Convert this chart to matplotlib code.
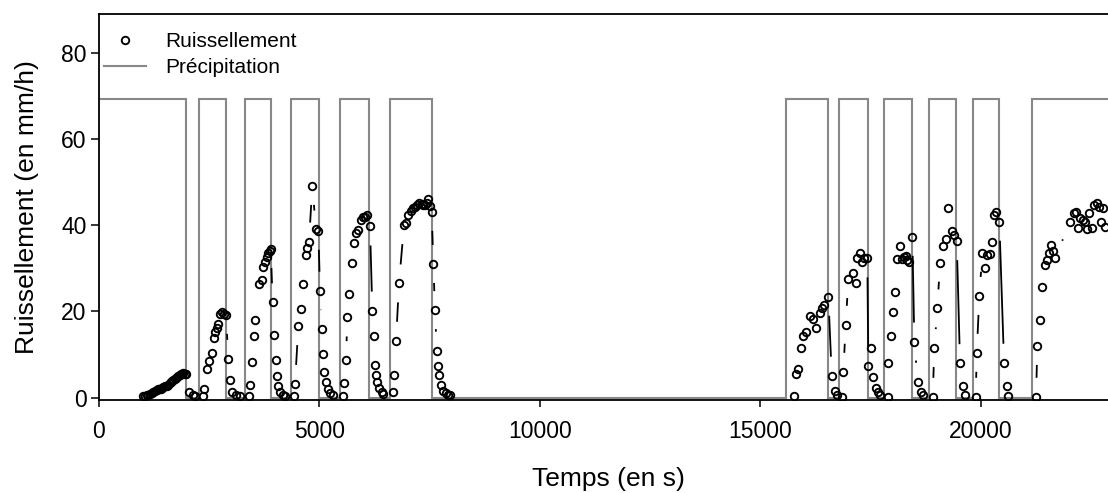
import numpy as np
import matplotlib
matplotlib.use("Agg")
import matplotlib.pyplot as plt
from matplotlib.collections import LineCollection
from matplotlib.lines import Line2D

plt.rcParams['font.family'] = ['Liberation Sans', 'DejaVu Sans']

# ---------------- data ----------------
precip_level = 69.2  # mm/h
precip_start = [0, 2263, 3320, 4349, 5467, 6601, 15580, 16776, 17796, 18823, 19814, 21152]
precip_end = [1968, 2875, 3909, 4984, 6132, 7546, 16526, 17433, 18431, 19442, 20417, 23300]

t_ruiss = [
    # event 1
    1007, 1045, 1083, 1121, 1159, 1197, 1234, 1272, 1310, 1340, 1370, 1397, 1424, 1462, 1499,
    1537, 1574, 1601, 1628, 1658, 1687, 1718, 1748, 1775, 1801, 1828, 1855, 1885, 1914, 1945,
    1975, 2050, 2127, 2179,
    # event 2
    2353, 2390, 2458, 2503, 2565, 2610, 2640, 2670, 2700, 2746, 2790, 2835, 2882, 2934, 2980,
    3020, 3100, 3200,
    # event 3
    3404, 3426, 3465, 3517, 3547, 3637, 3692, 3728, 3766, 3805, 3841, 3870, 3896, 3941, 3971,
    4009, 4032, 4068, 4107, 4168, 4220,
    # event 4
    4424, 4447, 4522, 4576, 4621, 4689, 4726, 4764, 4839, 4923, 4975, 5014, 5052, 5075, 5111,
    5150, 5188, 5240, 5315,
    # event 5
    5542, 5565, 5603, 5633, 5678, 5732, 5785, 5830, 5882, 5943, 5995, 6035, 6073, 6147, 6200,
    6238, 6261, 6283, 6313, 6358, 6413, 6449,
    # event 6
    6662, 6692, 6737, 6805, 6918, 6957, 7016, 7070, 7129, 7170, 7206, 7265, 7320, 7360, 7395,
    7435, 7469, 7508, 7546, 7583, 7621, 7660, 7696, 7719, 7757, 7810, 7871, 7923, 7961,
    # event 7
    15769, 15807, 15859, 15921, 15973, 16034, 16125, 16186, 16261, 16351, 16404, 16442, 16540,
    16617, 16692, 16744,
    # event 8
    16843, 16880, 16934, 16993, 17093, 17161, 17197, 17259, 17297, 17349, 17424, 17447, 17501,
    17560, 17614, 17660, 17712,
    # event 9
    17886, 17900, 17955, 18000, 18052, 18104, 18166, 18204, 18256, 18302, 18331, 18376, 18444,
    18490, 18567, 18635, 18694,
    # event 10
    18907, 18943, 19011, 19073, 19134, 19202, 19261, 19338, 19390, 19451, 19526, 19587, 19639,
    # event 11
    19882, 19905, 19964, 20032, 20093, 20132, 20206, 20259, 20297, 20342, 20417, 20524, 20585,
    20621,
    # event 12
    21249, 21279, 21340, 21392, 21454, 21506, 21551, 21590, 21642, 21680, 22021, 22111, 22157,
    22195, 22247, 22308, 22361, 22413, 22458, 22512, 22564, 22625, 22685, 22717, 22762, 22814,
]
q_ruiss = [
    # event 1
    0.4, 0.5, 0.6, 0.7, 0.9, 1.1, 1.3, 1.5, 1.8, 1.9, 2.0, 2.1, 2.2, 2.4, 2.6,
    2.8, 2.9, 3.3, 3.7, 3.9, 4.1, 4.4, 4.6, 4.9, 5.1, 5.2, 5.4, 5.6, 5.7, 5.6,
    5.5, 1.2, 0.6, 0.4,
    # event 2
    0.4, 1.9, 6.6, 8.6, 10.3, 13.8, 15.3, 16.1, 17.1, 19.4, 19.8, 19.5, 19.2, 9.0, 4.0,
    1.3, 0.6, 0.3,
    # event 3
    0.4, 2.9, 8.3, 14.3, 18.0, 26.4, 27.4, 30.2, 31.5, 32.7, 33.6, 34.0, 34.5, 22.1, 14.5,
    8.7, 5.0, 2.7, 1.4, 0.6, 0.4,
    # event 4
    0.3, 3.2, 16.6, 20.6, 26.4, 33.1, 34.6, 36.2, 49.1, 39.0, 38.7, 24.8, 15.9, 10.1, 6.0,
    3.7, 1.9, 1.0, 0.6,
    # event 5
    0.4, 3.5, 8.7, 18.6, 24.0, 31.3, 35.8, 38.1, 38.9, 41.2, 41.8, 42.0, 42.4, 39.7, 20.2,
    14.3, 7.6, 5.3, 3.7, 2.2, 1.4, 0.9,
    # event 6
    1.4, 5.3, 13.2, 26.5, 40.0, 40.4, 42.4, 43.4, 43.9, 44.3, 44.7, 45.1, 44.9, 44.6, 44.7,
    45.2, 46.0, 44.5, 43.1, 31.0, 20.3, 10.9, 7.4, 5.3, 2.9, 1.6, 1.0, 0.7, 0.55,
    # event 7
    0.4, 5.5, 6.6, 11.5, 14.3, 15.3, 18.9, 18.2, 16.1, 19.6, 20.7, 21.5, 23.4,
    5.1, 1.6, 0.6,
    # event 8
    0.2, 6.0, 16.9, 27.5, 28.8, 26.7, 32.3, 33.6, 31.5, 32.3, 32.3, 7.4, 11.5,
    4.9, 2.2, 1.2, 0.6,
    # event 9
    0.2, 8.1, 14.3, 19.9, 24.6, 32.1, 35.2, 32.1, 32.6, 32.9, 31.9, 31.5, 37.3,
    13.0, 3.7, 1.2, 0.6,
    # event 10
    0.2, 11.5, 20.7, 31.3, 35.2, 36.7, 44.1, 38.7, 37.7, 36.3, 8.0, 2.7, 0.6,
    # event 11
    0.2, 10.4, 23.6, 33.6, 30.0, 33.1, 33.3, 36.0, 42.4, 43.1, 40.8, 8.1, 2.7,
    0.4,
    # event 12
    0.2, 12.0, 17.9, 25.7, 30.8, 31.9, 33.6, 35.4, 34.1, 32.3, 40.8, 42.8, 43.1,
    39.4, 41.6, 41.2, 40.8, 39.0, 42.8, 39.4, 44.7, 45.1, 44.3, 40.8, 44.1, 39.5,
]

x_ticks = [0, 5000, 10000, 15000, 20000]
y_ticks = [0, 20, 40, 60, 80]

# ---------------- figure ----------------
DPI = 100
fig = plt.figure(figsize=(11.08, 4.93), dpi=DPI)
ax = fig.add_axes([0.08926, 0.18945, 0.9107, 0.78236])
ax.set_xlim(0, 22880)
ax.set_ylim(-0.45, 89)

GRAY = '#888888'

# precipitation as step curve
px, py = [0], [precip_level]
for i, (s, e) in enumerate(zip(precip_start, precip_end)):
    if i > 0:
        px += [s, s]
        py += [0, precip_level]
    px += [e, e]
    py += [precip_level, 0]
ax.plot(px, py, color=GRAY, lw=1.5, zorder=2, solid_joinstyle='miter')

# runoff: points joined by lines with gaps around points (R type="b")
t = np.asarray(t_ruiss, float)
q = np.asarray(q_ruiss, float)
gap_px = 19.0 * DPI / 100.0
disp = ax.transData.transform(np.column_stack([t, q]))
inv = ax.transData.inverted()
segs = []
for i in range(len(t) - 1):
    if t[i + 1] - t[i] > 1000:
        continue
    p0, p1 = disp[i], disp[i + 1]
    d = p1 - p0
    L = np.hypot(d[0], d[1])
    if L <= 2 * gap_px:
        continue
    u = d / L
    segs.append(inv.transform(np.array([p0 + u * gap_px, p1 - u * gap_px])))
ax.add_collection(LineCollection(segs, colors='black', linewidths=1.3, zorder=3))
ax.plot(t, q, linestyle='none', marker='o', ms=5.4, mew=1.35, mfc='none',
        mec='black', zorder=4, clip_on=True)

# axes styling
for side in ['top', 'left', 'bottom']:
    ax.spines[side].set_linewidth(1.3)
    ax.spines[side].set_color('black')
ax.spines['right'].set_visible(False)

ax.set_xticks(x_ticks)
ax.set_xticklabels([str(v) for v in x_ticks])
ax.set_yticks(y_ticks)
ax.set_yticklabels([str(v) for v in y_ticks])
ax.tick_params(axis='x', length=5, width=1.1, pad=9.5, labelsize=16.5, direction='out')
ax.tick_params(axis='y', length=6, width=1.1, pad=3, labelsize=16.5, direction='out')
ax.tick_params(top=False, right=False)

ax.set_xlabel('Temps (en s)', fontsize=19)
ax.set_ylabel('Ruissellement (en mm/h)', fontsize=19)
ax.xaxis.set_label_coords(0.5045, -0.1748)
ax.yaxis.set_label_coords(-0.0594, 0.5)

handles = [
    Line2D([], [], linestyle='none', marker='o', ms=5.4, mew=1.35, mfc='none', mec='black'),
    Line2D([], [], color=GRAY, lw=1.5),
]
fig.legend(handles, ['Ruissellement', 'Précipitation'], loc='upper left',
           bbox_to_anchor=(104 / 1108, 1 - 32.0 / 493), frameon=False,
           fontsize=15, handlelength=2.0, handletextpad=0.95, labelspacing=0.34,
           borderpad=0, borderaxespad=0)

fig.savefig('out.png', dpi=DPI)
